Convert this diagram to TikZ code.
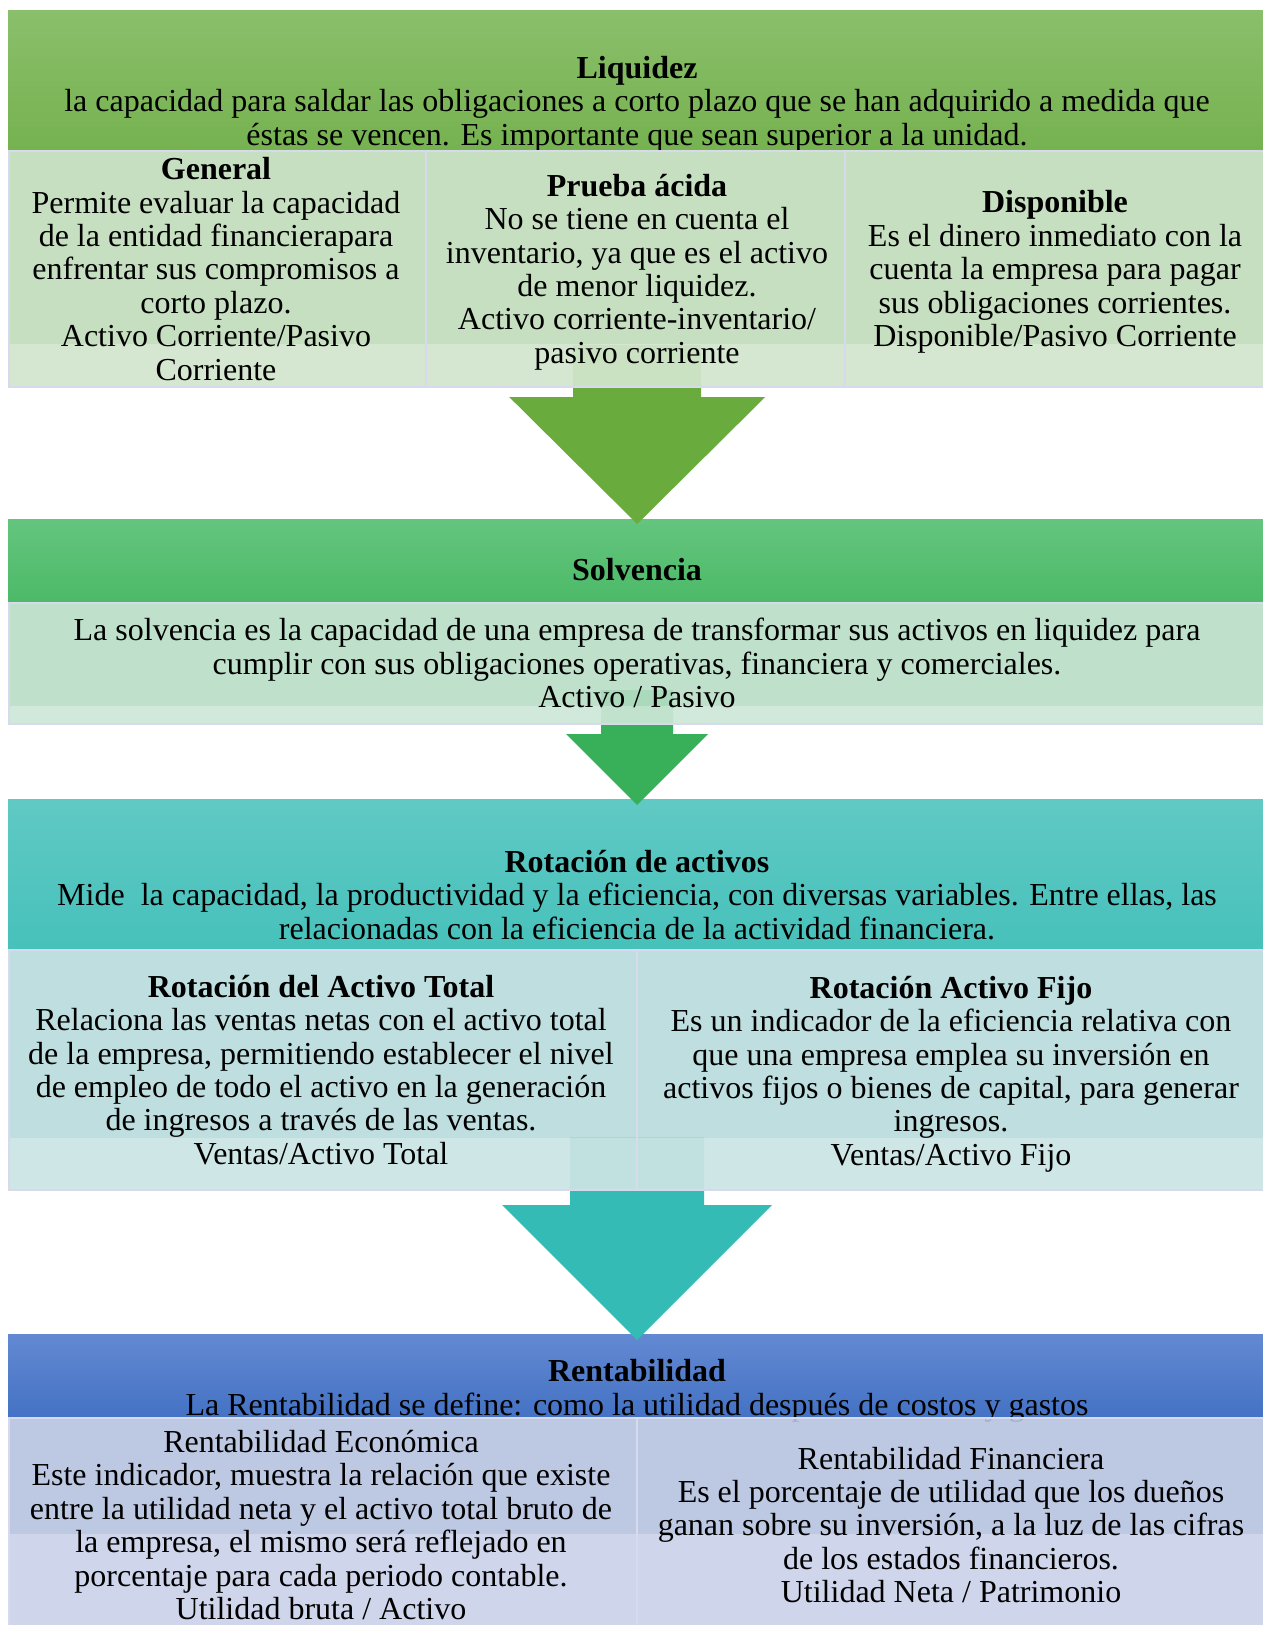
\documentclass[tikz,border=0pt]{standalone}
\usepackage{fontspec}
\setmainfont{Liberation Serif}
\usetikzlibrary{positioning, calc}

\definecolor{liqA}{HTML}{8ABF6B}
\definecolor{liqB}{HTML}{76B250}
\definecolor{liqcaja}{HTML}{C0DBB9}
\definecolor{solvA}{HTML}{64C57E}
\definecolor{solvB}{HTML}{4CBA68}
\definecolor{solvcaja}{HTML}{B8DEC7}
\definecolor{rotA}{HTML}{60C9C4}
\definecolor{rotB}{HTML}{47C1BB}
\definecolor{rotcaja}{HTML}{B7DADB}
\definecolor{renA}{HTML}{6389D2}
\definecolor{renB}{HTML}{4472C4}
\definecolor{rencaja}{HTML}{B6C2E0}
\definecolor{flecha1}{HTML}{6AAB3D}
\definecolor{flecha2}{HTML}{37B059}
\definecolor{flecha3}{HTML}{34BBB5}
\definecolor{borde}{HTML}{D6DAEC}

% flecha: color, inicio, medio ancho del cuerpo, medio ancho de la punta, largo de la punta, punta
\newcommand{\flecha}[6]{\fill[#1] ($(#2)+(-#3,0)$) -- ($(#6)+(-#3,-#5)$) -- ($(#6)+(-#4,-#5)$) -- (#6)
  -- ($(#6)+(#4,-#5)$) -- ($(#6)+(#3,-#5)$) -- ($(#2)+(#3,0)$) -- cycle;}

\begin{document}
\begin{tikzpicture}[x=1pt, y=-1pt,
    cabeza/.style={inner sep=0pt, anchor=north west, minimum width=1258pt},
    caja/.style={draw=borde, line width=1.5pt, inner sep=0pt, anchor=north west, fill opacity=.9,
      path picture={\fill[white, fill opacity=.27] (path picture bounding box.south west)
        rectangle ([yshift=#1]path picture bounding box.south east);}},
    caja/.default=43pt,
    texto/.style={align=center, inner sep=0pt, font=\fontsize{32}{33.4}\selectfont}]
    \useasboundingbox (0,0) rectangle (1263,1625);

    % cabezas
    \node[cabeza, top color=liqA, bottom color=liqB, minimum height=140pt] (liq) at (8,10) {};
    \node[cabeza, top color=solvA, bottom color=solvB, minimum height=82pt] (solv) at (8,519) {};
    \node[cabeza, top color=rotA, bottom color=rotB, minimum height=150pt] (rot) at (8,799) {};
    \node[cabeza, top color=renA, bottom color=renB, minimum height=83pt] (ren) at (8,1334) {};

    \node[texto] (liq-t) at (637,104) {\textbf{Liquidez}\\la capacidad para saldar las obligaciones a corto plazo que se han adquirido a medida que\\éstas se vencen. Es importante que sean superior a la unidad.};
    \node[texto] (solv-t) at (637,570) {\textbf{Solvencia}};
    \node[texto] (rot-t) at (637,895) {\textbf{Rotación de activos}\\Mide\ \ la capacidad, la productividad y la eficiencia, con diversas variables. Entre ellas, las\\relacionadas con la eficiencia de la actividad financiera.};
    \node[texto] (ren-t) at (637,1391) {\textbf{Rentabilidad}\\La Rentabilidad se define: como la utilidad después de costos y gastos};

    % flechas
    \coordinate (f1) at ($(liq.south |- 0,345)$);
    \coordinate (p1) at ($(solv.north)+(0,5)$);
    \coordinate (f2) at ($(solv.south |- 0,690)$);
    \coordinate (p2) at ($(rot.north)+(0,6)$);
    \coordinate (f3) at ($(rot.south |- 0,1137)$);
    \coordinate (p3) at ($(ren.north)+(0,6)$);
    \flecha{flecha1}{f1}{64}{128}{127}{p1}
    \flecha{flecha2}{f2}{36}{71}{71}{p2}
    \flecha{flecha3}{f3}{67}{135}{135}{p3}

    % cajas
    \foreach \n/\x/\w in {gen/8/417, acida/425/419, disp/844/422}
      \node[caja, fill=liqcaja, minimum width=\w pt, minimum height=236pt] (\n) at (\x,150) {};
    \node[caja=18pt, fill=solvcaja, minimum width=1258pt, minimum height=121pt] (solvc) at (8,602) {};
    \foreach \n/\x/\w in {total/8/628, fijo/636/630}
      \node[caja=52pt, fill=rotcaja, minimum width=\w pt, minimum height=240pt] (\n) at (\x,949) {};
    \foreach \n/\x/\w in {econ/8/628, finan/636/630}
      \node[caja=99pt, fill=rencaja, minimum width=\w pt, minimum height=215pt] (\n) at (\x,1417) {};

    \node[texto] (gen-t) at (216,269) {\textbf{General}\\Permite evaluar la capacidad\\de la entidad financierapara\\enfrentar sus compromisos a\\corto plazo.\\Activo Corriente/Pasivo\\Corriente};
    \node[texto] (acida-t) at (637,272) {\textbf{Prueba ácida}\\No se tiene en cuenta el\\inventario, ya que es el activo\\de menor liquidez.\\Activo corriente-inventario/\\pasivo corriente};
    \node[texto] (disp-t) at (1055,272) {\textbf{Disponible}\\Es el dinero inmediato con la\\cuenta la empresa para pagar\\sus obligaciones corrientes.\\Disponible/Pasivo Corriente};
    \node[texto] (solvc-t) at (637,663) {La solvencia es la capacidad de una empresa de transformar sus activos en liquidez para\\cumplir con sus obligaciones operativas, financiera y comerciales.\\Activo / Pasivo};
    \node[texto] (total-t) at (321,1070) {\textbf{Rotación del Activo Total}\\Relaciona las ventas netas con el activo total\\de la empresa, permitiendo establecer el nivel\\de empleo de todo el activo en la generación\\de ingresos a través de las ventas.\\Ventas/Activo Total};
    \node[texto] (fijo-t) at (951,1074) {\textbf{Rotación Activo Fijo}\\Es un indicador de la eficiencia relativa con\\que una empresa emplea su inversión en\\activos fijos o bienes de capital, para generar\\ingresos.\\Ventas/Activo Fijo};
    \node[texto] (econ-t) at (321,1525) {Rentabilidad Económica\\Este indicador, muestra la relación que existe\\entre la utilidad neta y el activo total bruto de\\la empresa, el mismo será reflejado en\\porcentaje para cada periodo contable.\\Utilidad bruta / Activo};
    \node[texto] (finan-t) at (951,1525) {Rentabilidad Financiera\\Es el porcentaje de utilidad que los dueños\\ganan sobre su inversión, a la luz de las cifras\\de los estados financieros.\\Utilidad Neta / Patrimonio};
\end{tikzpicture}
\end{document}
